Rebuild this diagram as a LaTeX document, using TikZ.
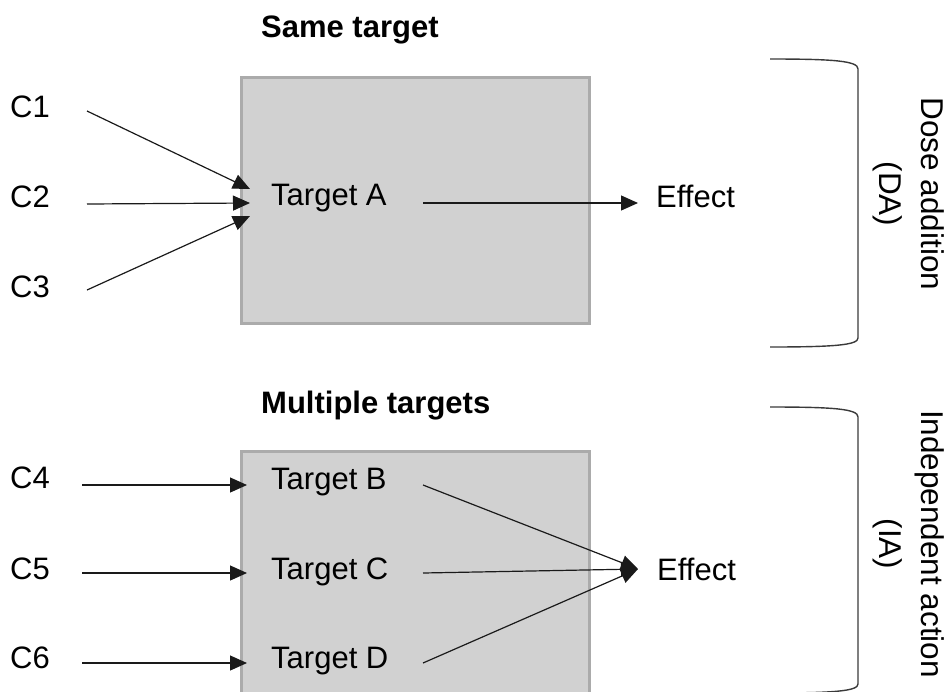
\documentclass[tikz,border=0pt]{standalone}
\usepackage{fontspec}
\setmainfont{Liberation Sans}
\usetikzlibrary{arrows.meta}
\definecolor{boxfill}{HTML}{D1D1D1}
\definecolor{boxline}{HTML}{ABABAB}
\definecolor{ink}{HTML}{1A1A1A}
\definecolor{bracecol}{HTML}{3A3A3A}
\begin{document}
\begin{tikzpicture}[x=1pt,y=-1pt,
  lbl/.style={font=\fontsize{31}{37}\selectfont, inner sep=0pt, anchor=base west, text=black},
  head/.style={font=\fontsize{31}{37}\selectfont\bfseries, inner sep=0pt, anchor=base west, text=black},
  side/.style={font=\fontsize{31.5}{42}\selectfont, inner sep=0pt, align=center, rotate=-90, text=black},
  panel/.style={draw=boxline, fill=boxfill, line width=2.5pt, inner sep=0pt, anchor=north west},
  arr/.style={draw=ink, line width=1.2pt, -{Triangle[length=17pt,width=15pt]}},
  brace/.style={draw=bracecol, line width=1.4pt}
]
\useasboundingbox (0,0) rectangle (950,691);
\clip (0,0) rectangle (950,691);

% grey target panels
\node[panel, minimum width=348pt, minimum height=246pt] (panelA) at (240,76) {};
\node[panel, minimum width=348pt, minimum height=260pt] (panelB) at (240,450) {};

% headings
\node[head] (hSame) at (261,37) {Same target};
\node[head] (hMulti) at (261,413) {Multiple targets};

% ---- same target ----
\node[lbl] (c1) at (10,117) {C1};
\node[lbl] (c2) at (10,207) {C2};
\node[lbl] (c3) at (10,297) {C3};
\node[lbl] (tA) at (271,205) {Target A};
\node[lbl] (eA) at (656,207) {Effect};

\coordinate (c1s) at (87,111);
\coordinate (c2s) at (87,204);
\coordinate (c3s) at (87,290);
\coordinate (inA1) at (250,189);
\coordinate (inA2) at (250,203);
\coordinate (inA3) at (250,216);
\coordinate (tAo) at (423,203);
\coordinate (eAi) at (638,203);

\draw[arr] (c1s) -- (inA1);
\draw[arr] (c2s) -- (inA2);
\draw[arr] (c3s) -- (inA3);
\draw[arr] (tAo) -- (eAi);

% ---- multiple targets ----
\node[lbl] (c4) at (10,488) {C4};
\node[lbl] (c5) at (10,579) {C5};
\node[lbl] (c6) at (10,668) {C6};
\node[lbl] (tB) at (271,489) {Target B};
\node[lbl] (tC) at (271,579) {Target C};
\node[lbl] (tD) at (271,668) {Target D};
\node[lbl] (eB) at (657,580) {Effect};

\coordinate (c4s) at (82,485);
\coordinate (c5s) at (82,573);
\coordinate (c6s) at (82,663);
\coordinate (tBi) at (247,485);
\coordinate (tCi) at (247,573);
\coordinate (tDi) at (247,663);
\coordinate (tBo) at (423,485);
\coordinate (tCo) at (423,573);
\coordinate (tDo) at (423,663);
\coordinate (eBi) at (638,569);

\draw[arr] (c4s) -- (tBi);
\draw[arr] (c5s) -- (tCi);
\draw[arr] (c6s) -- (tDi);
\draw[arr] (tBo) -- (eBi);
\draw[arr] (tCo) -- (eBi);
\draw[arr] (tDo) -- (eBi);

% ---- brackets and model labels ----
\draw[brace] (770,59) .. controls (835,59) and (858,61) .. (858,69)
  -- (858,338) .. controls (858,345) and (835,347) .. (770,347);
\draw[brace] (770,407) .. controls (835,407) and (858,409) .. (858,417)
  -- (858,684) .. controls (858,691) and (835,693) .. (770,693);

\node[side] (da) at (909,194) {Dose addition\\(DA)};
\node[side] (ia) at (909,544) {Independent action\\(IA)};
\end{tikzpicture}
\end{document}
